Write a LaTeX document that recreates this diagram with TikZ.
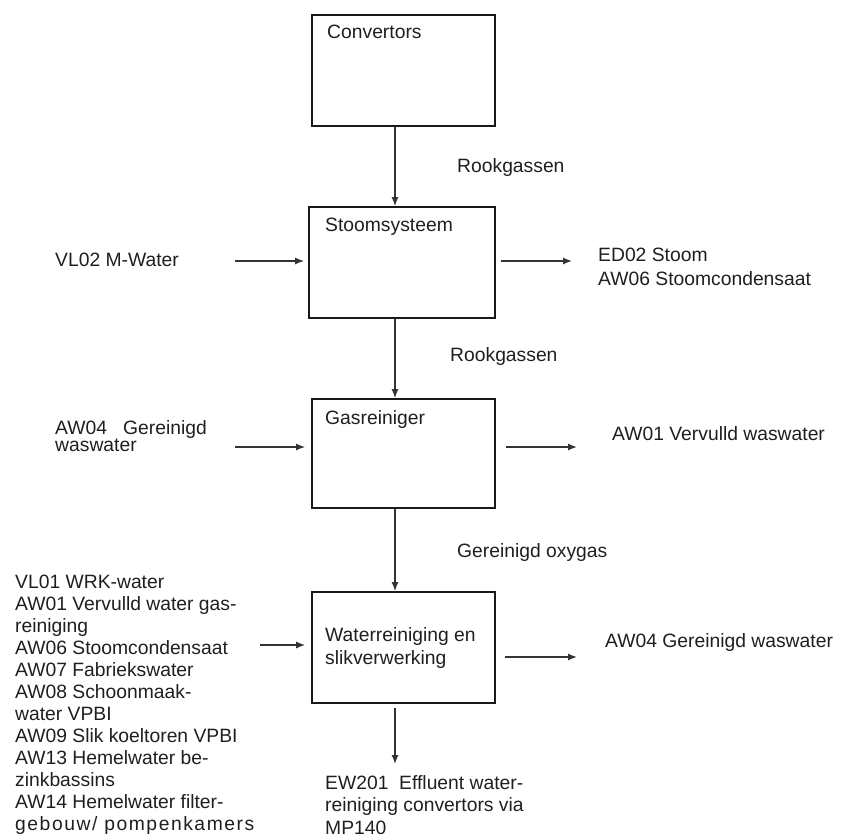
\documentclass[tikz,border=0pt]{standalone}
\usepackage{fontspec}
\setmainfont{Liberation Sans}
\usetikzlibrary{arrows.meta}
\begin{document}
\begin{tikzpicture}[x=1bp,y=-1bp,
  box/.style={draw=black!90, line width=1.8bp, inner sep=0pt, minimum width=183bp, minimum height=111bp},
  lbl/.style={anchor=north west, inner sep=0pt, align=left, text=black!88,
    font=\fontsize{19.3bp}{22bp}\selectfont},
  flow/.style={draw=black!80, line width=1.3bp, -{Latex[length=9bp,width=7bp]}}]
\useasboundingbox (0,0) rectangle (841,838);

% process blocks
\node[box] (conv)  at (403.5,70.5) {};
\node[box, minimum width=186bp] (stoom) at (402,262.5) {};
\node[box, minimum height=109bp] (gas)   at (403.5,453.5) {};
\node[box] (water) at (403.5,647.5) {};

% block titles
\node[lbl] (conv-t)  at (327,25)  {Convertors};
\node[lbl] (stoom-t) at (325,218) {Stoomsysteem};
\node[lbl] (gas-t)   at (325,410) {Gasreiniger};
\node[lbl, font=\fontsize{19.3bp}{23bp}\selectfont] (water-t) at (325,627) {Waterreiniging en\\slikverwerking};

% stream labels
\node[lbl] (rook1) at (457,158) {Rookgassen};
\node[lbl] (rook2) at (450,347) {Rookgassen};
\node[lbl] (oxy)   at (457,543) {Gereinigd oxygas};
\node[lbl] (vl02-t) at (55,253) {VL02 M-Water};
\node[lbl, font=\fontsize{19.3bp}{24bp}\selectfont] (ed02-t) at (598,248) {ED02 Stoom\\AW06 Stoomcondensaat};
\node[lbl, font=\fontsize{19.3bp}{16bp}\selectfont] (aw04-t) at (55,420) {AW04\ \ \ Gereinigd\\waswater};
\node[lbl] (aw01-t) at (612,426) {AW01 Vervulld waswater};
\node[lbl] (aw04b-t) at (605,633) {AW04 Gereinigd waswater};
\node[lbl] (in-t) at (15,575) {VL01 WRK-water\\AW01 Vervulld water gas-\\reiniging\\AW06 Stoomcondensaat\\AW07 Fabriekswater\\AW08 Schoonmaak-\\water VPBI\\AW09 Slik koeltoren VPBI\\AW13 Hemelwater be-\\zinkbassins\\AW14 Hemelwater filter-\\{\addfontfeature{LetterSpace=8}gebouw/ pompenkamers}};
\node[lbl, font=\fontsize{19.3bp}{22.5bp}\selectfont] (ew-t) at (325,775) {EW201\ \ Effluent water-\\reiniging convertors via\\MP140};

% connector end points
\coordinate (axis) at (395,0);
\coordinate (vl02) at (235,261);
\coordinate (ed02) at (572,261);
\coordinate (aw04) at (235,447);
\coordinate (aw01) at (577,447);
\coordinate (win)  at (260,645);
\coordinate (wout) at (577,657);
\coordinate (ewtop) at (395,708);
\coordinate (ew)   at (395,764);

% main gas/water line
\draw[flow] (conv.south -| axis) -- (stoom.north -| axis);
\draw[flow] (stoom.south -| axis) -- (gas.north -| axis);
\draw[flow] (gas.south -| axis) -- (water.north -| axis);
\draw[flow] (ewtop) -- (ew);

% side streams
\draw[flow, shorten >=4bp] (vl02) -- (stoom.west |- vl02);
\draw[flow, shorten <=5bp] (stoom.east |- ed02) -- (ed02);
\draw[flow, shorten >=6bp] (aw04) -- (gas.west |- aw04);
\draw[flow, shorten <=10bp] (gas.east |- aw01) -- (aw01);
\draw[flow, shorten >=6bp] (win) -- (water.west |- win);
\draw[flow, shorten <=9bp] (water.east |- wout) -- (wout);
\end{tikzpicture}
\end{document}
